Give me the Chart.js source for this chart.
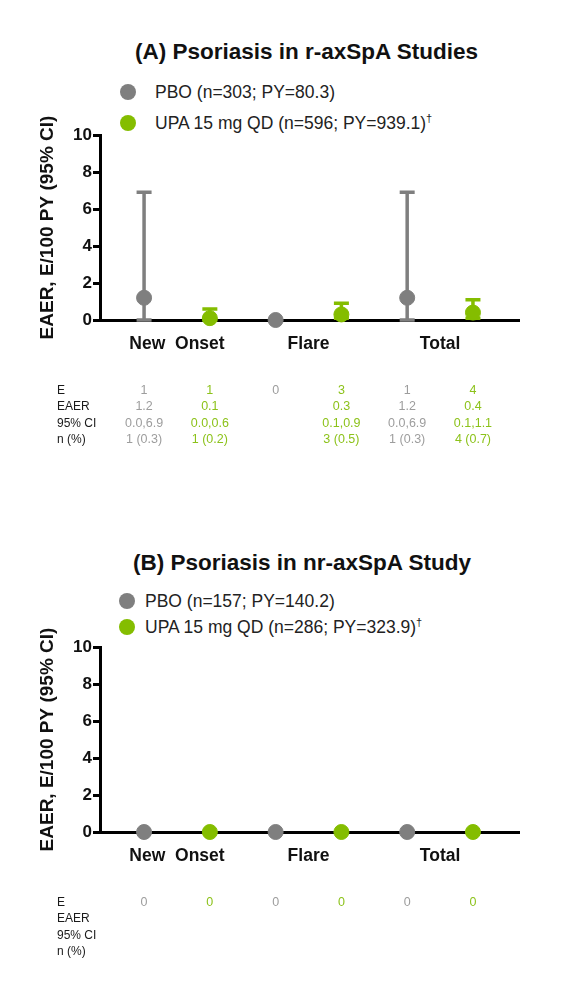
<!DOCTYPE html>
<html>
<head>
<meta charset="utf-8">
<script src="https://cdn.jsdelivr.net/npm/chart.js@4.4.1/dist/chart.umd.min.js"></script>
<style>
  body { margin: 0; background: #fff; font-family: "Liberation Sans", Arial, sans-serif; }
  #page { position: relative; width: 572px; height: 999px; overflow: hidden; }
  canvas { position: absolute; left: 0; }
  .title { position: absolute; font-weight: bold; font-size: 22.5px; color: #111; white-space: nowrap; line-height: 26px; }
  .leg { position: absolute; font-size: 17.5px; color: #222; white-space: nowrap; line-height: 20px; }
  .dot { position: absolute; width: 16px; height: 16px; border-radius: 50%; }
  sup { font-size: 11px; vertical-align: 7px; line-height: 0; }
</style>
</head>
<body>
<div id="page">
  <div class="title" style="left:135px;top:39px">(A) Psoriasis in r-axSpA Studies</div>
  <div class="dot" style="left:120px;top:84px;background:#7f7f7f"></div>
  <div class="leg" style="left:155px;top:82px">PBO (n=303; PY=80.3)</div>
  <div class="dot" style="left:120px;top:115px;background:#84bd00"></div>
  <div class="leg" style="left:155px;top:113px">UPA 15 mg QD (n=596; PY=939.1)<sup>†</sup></div>
  <canvas id="chartA" width="572" height="470" style="top:0"></canvas>

  <div class="title" style="left:133px;top:550px">(B) Psoriasis in nr-axSpA Study</div>
  <div class="dot" style="left:119px;top:593px;background:#7f7f7f"></div>
  <div class="leg" style="left:145px;top:591px">PBO (n=157; PY=140.2)</div>
  <div class="dot" style="left:119px;top:619px;background:#84bd00"></div>
  <div class="leg" style="left:145px;top:617px">UPA 15 mg QD (n=286; PY=323.9)<sup>†</sup></div>
  <canvas id="chartB" width="572" height="470" style="top:500px"></canvas>
</div>
<script>
// categories and table row names
const categories = ['New  Onset', 'Flare', 'Total'];
const rowLabels = ['E', 'EAER', '95% CI', 'n (%)'];

// panel A: r-axSpA studies
const pboRateA = [1.2, 0, 1.2];
const pboLowA = [0.0, null, 0.0];
const pboHighA = [6.9, null, 6.9];
const pboEventsA = [1, 0, 1];
const pboPctA = [0.3, null, 0.3];
const upaRateA = [0.1, 0.3, 0.4];
const upaLowA = [0.0, 0.1, 0.1];
const upaHighA = [0.6, 0.9, 1.1];
const upaEventsA = [1, 3, 4];
const upaPctA = [0.2, 0.5, 0.7];

// panel B: nr-axSpA study
const pboRateB = [0, 0, 0];
const pboEventsB = [0, 0, 0];
const upaRateB = [0, 0, 0];
const upaEventsB = [0, 0, 0];

const yTicks = [0, 2, 4, 6, 8, 10];

const grey = '#7f7f7f';
const green = '#84bd00';
const greyText = '#9d9d9d';
const greenText = '#8cc21a';
const font = '"Liberation Sans", Arial, sans-serif';

// error bars drawn under the points
const errorBars = {
  id: 'errorBars',
  beforeDatasetsDraw(chart) {
    const ctx = chart.ctx;
    const y = chart.scales.y;
    chart.data.datasets.forEach((ds, i) => {
      if (!ds.lows) return;
      const meta = chart.getDatasetMeta(i);
      ctx.save();
      ctx.strokeStyle = ds.backgroundColor;
      ctx.lineWidth = 3.5;
      meta.data.forEach((pt, j) => {
        if (ds.lows[j] == null) return;
        const yl = y.getPixelForValue(ds.lows[j]);
        const yh = y.getPixelForValue(ds.highs[j]);
        ctx.beginPath();
        ctx.moveTo(pt.x, yl);
        ctx.lineTo(pt.x, yh);
        ctx.moveTo(pt.x - 7.5, yh);
        ctx.lineTo(pt.x + 7.5, yh);
        ctx.moveTo(pt.x - 7.5, yl);
        ctx.lineTo(pt.x + 7.5, yl);
        ctx.stroke();
      });
      ctx.restore();
    });
  }
};

// E / EAER / CI / n(%) table under the axis
const tableRows = {
  id: 'tableRows',
  afterDraw(chart) {
    const ctx = chart.ctx;
    const x = chart.scales.x;
    const base = chart.chartArea.bottom;
    const offs = [71, 87, 104, 120];
    const cols = chart.options.plugins.tableRows.cols;
    ctx.save();
    ctx.textBaseline = 'middle';
    rowLabels.forEach((lab, r) => {
      ctx.font = '12px ' + font;
      ctx.textAlign = 'left';
      ctx.fillStyle = '#1a1a1a';
      ctx.fillText(lab, 57, base + offs[r]);
      ctx.textAlign = 'center';
      ctx.font = '12.5px ' + font;
      cols.forEach((c, k) => {
        const txt = c.rows[r];
        if (!txt) return;
        ctx.fillStyle = c.color;
        ctx.fillText(txt, x.getPixelForValue(k + 1), base + offs[r]);
      });
    });
    ctx.restore();
  }
};

function colText(events, rate, low, high, pct) {
  if (!events) return [String(events), '', '', ''];
  return [String(events), rate.toFixed(1), low.toFixed(1) + ',' + high.toFixed(1),
    events + ' (' + pct + ')'];
}

function buildCols(pbo, upa) {
  const cols = [];
  for (let i = 0; i < categories.length; i++) {
    cols.push({ color: greyText, rows: colText(pbo.e[i], pbo.r[i], pbo.l ? pbo.l[i] : null, pbo.h ? pbo.h[i] : null, pbo.p ? pbo.p[i] : null) });
    cols.push({ color: greenText, rows: colText(upa.e[i], upa.r[i], upa.l ? upa.l[i] : null, upa.h ? upa.h[i] : null, upa.p ? upa.p[i] : null) });
  }
  return cols;
}

function makeChart(id, topPad, pboRate, upaRate, pboLow, pboHigh, upaLow, upaHigh, cols) {
  return new Chart(document.getElementById(id), {
    type: 'scatter',
    data: {
      datasets: [
        {
          label: 'PBO',
          data: pboRate.map((v, i) => ({ x: 2 * i + 1, y: v })),
          backgroundColor: grey, borderColor: grey,
          pointRadius: 7.5, pointHoverRadius: 7.5, clip: false,
          lows: pboLow, highs: pboHigh
        },
        {
          label: 'UPA 15 mg QD',
          data: upaRate.map((v, i) => ({ x: 2 * i + 2, y: v })),
          backgroundColor: green, borderColor: green,
          pointRadius: 7.5, pointHoverRadius: 7.5, clip: false,
          lows: upaLow, highs: upaHigh
        }
      ]
    },
    options: {
      responsive: false,
      animation: false,
      layout: { padding: { left: 30, right: 53, top: topPad, bottom: 470 - topPad - 185 - 40 } },
      plugins: {
        legend: { display: false },
        tooltip: { enabled: false },
        tableRows: { cols: cols }
      },
      scales: {
        x: {
          type: 'linear', min: 0.33, max: 6.7,
          afterBuildTicks: s => { s.ticks = categories.map((c, i) => ({ value: 2 * i + 1.5 })); },
          afterFit: s => { s.height = 40; },
          ticks: {
            callback: (v, i) => categories[i],
            autoSkip: false, maxRotation: 0,
            color: '#111', padding: 14,
            font: { family: font, size: 17.5, weight: 'bold' }
          },
          grid: { display: false, drawTicks: false },
          border: { display: true, color: '#000', width: 3 }
        },
        y: {
          min: 0, max: 10,
          afterBuildTicks: s => { s.ticks = yTicks.map(v => ({ value: v })); },
          afterFit: s => { s.width = 70; },
          ticks: {
            color: '#111', padding: 1,
            font: { family: font, size: 17, weight: 'bold' }
          },
          grid: { display: true, drawOnChartArea: false, drawTicks: true, tickLength: 7, lineWidth: 3, color: '#000' },
          border: { display: true, color: '#000', width: 3 },
          title: {
            display: true, text: 'EAER, E/100 PY (95% CI)', color: '#111',
            font: { family: font, size: 19, weight: 'bold' },
            padding: { top: 6, bottom: 0 }
          }
        }
      }
    },
    plugins: [errorBars, tableRows]
  });
}

makeChart('chartA', 135, pboRateA, upaRateA, pboLowA, pboHighA, upaLowA, upaHighA,
  buildCols({ e: pboEventsA, r: pboRateA, l: pboLowA, h: pboHighA, p: pboPctA },
            { e: upaEventsA, r: upaRateA, l: upaLowA, h: upaHighA, p: upaPctA }));

makeChart('chartB', 147, pboRateB, upaRateB, null, null, null, null,
  buildCols({ e: pboEventsB, r: pboRateB }, { e: upaEventsB, r: upaRateB }));
</script>
</body>
</html>
